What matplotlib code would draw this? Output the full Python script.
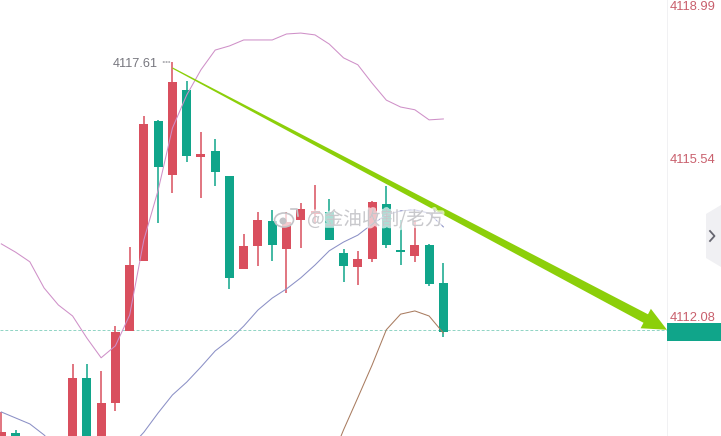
import numpy as np
import matplotlib
matplotlib.use("Agg")
import matplotlib.pyplot as plt
import matplotlib.patheffects as pe
from matplotlib.patches import Polygon, Rectangle, Ellipse, Circle
from matplotlib.transforms import Affine2D

idx = [0, 1, 5, 6, 7, 8, 9, 10, 11, 12, 13, 14, 15, 16, 17, 18, 19, 20, 21, 22, 23, 24, 25, 26, 27, 28, 29, 30, 31]
up = [1, 0, 1, 0, 1, 1, 1, 1, 0, 1, 0, 1, 0, 0, 1, 1, 0, 1, 1, 1, 0, 0, 1, 1, 0, 0, 1, 0, 0]
highs = [4110.00, 4109.60, 4111.04, 4111.04, 4110.89, 4111.86, 4113.59, 4116.43, 4116.35, 4117.61, 4117.20,
         4116.09, 4115.93, 4115.13, 4113.87, 4114.34, 4114.39, 4114.34, 4114.54, 4114.93, 4114.63, 4113.54,
         4113.50, 4114.59, 4114.90, 4114.16, 4114.17, 4113.65, 4113.23]
lows = [4109.27, 4109.27, 4109.05, 4109.05, 4109.05, 4110.01, 4111.75, 4113.28, 4114.11, 4114.76, 4115.44,
        4114.65, 4114.92, 4112.67, 4113.11, 4113.17, 4113.28, 4112.59, 4113.57, 4114.08, 4113.74, 4112.81,
        4112.76, 4113.26, 4113.55, 4113.20, 4113.26, 4112.74, 4111.63]
body_top = [4109.56, 4109.54, 4110.73, 4110.73, 4110.19, 4111.73, 4113.19, 4116.26, 4116.33, 4117.17, 4117.00,
            4115.61, 4115.67, 4115.13, 4113.60, 4114.17, 4114.15, 4114.13, 4114.41, 4114.36, 4114.34, 4113.45,
            4113.32, 4114.56, 4114.52, 4113.51, 4113.62, 4113.63, 4112.79]
body_bot = [4109.27, 4109.27, 4109.16, 4109.16, 4109.16, 4110.19, 4111.75, 4113.28, 4115.33, 4115.16, 4115.57,
            4115.55, 4115.22, 4112.91, 4113.11, 4113.61, 4113.63, 4113.54, 4114.17, 4114.30, 4113.74, 4113.17,
            4113.15, 4113.32, 4113.63, 4113.48, 4113.39, 4112.78, 4111.73]

upper_band = [4113.65, 4113.47, 4113.26, 4112.69, 4112.32, 4112.08, 4111.60, 4111.17, 4111.43, 4112.10, 4113.74,
              4114.82, 4116.17, 4116.89, 4117.44, 4117.87, 4117.96, 4118.09, 4118.09, 4118.09, 4118.22, 4118.24,
              4118.20, 4118.00, 4117.70, 4117.55, 4117.15, 4116.78, 4116.63, 4116.57, 4116.35, 4116.37]
mid_idx_a = [0, 1, 2, 3, 4]
mid_a = [4109.99, 4109.86, 4109.73, 4109.49, 4109.16]
mid_idx_b = list(range(9, 32))
mid_b = [4109.21, 4109.55, 4109.97, 4110.36, 4110.64, 4110.97, 4111.32, 4111.56, 4111.86, 4112.21, 4112.47,
         4112.67, 4112.91, 4113.19, 4113.50, 4113.69, 4113.84, 4114.08, 4114.28, 4114.37, 4114.39, 4114.32, 4114.02]
low_idx = list(range(23, 32))
low_band = [4108.84, 4109.60, 4110.30, 4111.01, 4111.78, 4112.12, 4112.19, 4112.08, 4111.71]

axis_ticks = [4118.99, 4115.54, 4112.08]
tick_labels = ["4118.99", "4115.54", "4112.08"]
tick_offsets_px = [8, 3, 2]
high_value = 4117.61
last_price = 4111.78
trend_start = (12, 4117.48)
trend_end = (46.68, 4111.78)

RED, GREEN = "#d94f5e", "#10a58a"
W, H = 721, 436
fig = plt.figure(figsize=(W / 100, H / 100), dpi=100, facecolor="white")
ax = fig.add_axes([0, 0, 1, 1])
ax.set_xlim(-0.091, 50.47)
ax.set_ylim(4109.467, 4118.96)
ax.axis("off")
px = Affine2D().scale(1, -1).translate(0, H)

ax.axhline(last_price, color="#8fd4c4", lw=0.7, ls=(0, (3, 2)), zorder=1)

for i, u, h, l, t, b in zip(idx, up, highs, lows, body_top, body_bot):
    c = RED if u else GREEN
    ax.vlines(i, l, h, color=c, lw=1.1, zorder=2)
    ax.bar(i, t - b, bottom=b, width=0.63, color=c, lw=0, zorder=2)

ax.plot(range(len(upper_band)), upper_band, color="#cf90c8", lw=0.75, zorder=3)
ax.plot(mid_idx_a, mid_a, color="#8b90c6", lw=0.75, zorder=3)
ax.plot(mid_idx_b, mid_b, color="#8b90c6", lw=0.75, zorder=3)
ax.plot(low_idx, low_band, color="#a97c60", lw=0.75, zorder=3)

# tapered trend arrow
fig.canvas.draw()
p0, p1 = ax.transData.transform([trend_start, trend_end])
d = (p1 - p0) / np.hypot(*(p1 - p0))
n = np.array([-d[1], d[0]])
head = p1 - 24 * d
verts = [p0 + 0.6 * n, head + 4.8 * n, head + 11 * n, p1, head - 11 * n, head - 4.8 * n, p0 - 0.6 * n]
ax.add_patch(Polygon(ax.transData.inverted().transform(verts), closed=True, fc="#8ccf0a", ec="none", zorder=5))

# high label
ax.annotate(f"{high_value:.2f}", (12, high_value), xytext=(-14.5, -2), textcoords="offset pixels",
            ha="right", va="center", fontsize=9.2, color="#77777f", family="Liberation Sans", zorder=6)
ax.annotate("", (12, high_value), xytext=(-12, 0), textcoords="offset pixels",
            arrowprops=dict(arrowstyle="-", ls=(0, (1, 1.5)), color="#77777f", lw=0.8))

# price axis
fig.add_artist(Rectangle((667, 0), 1, H, transform=px, fc="#f1f1f3", ec="none"))
fig.add_artist(Rectangle((667, 323), 54, 17.5, transform=px, fc=GREEN, ec="none"))
for v, s, off in zip(axis_ticks, tick_labels, tick_offsets_px):
    ax.annotate(s, (46.87, v), xytext=(0, -off), textcoords="offset pixels", ha="left", va="center",
                fontsize=9.3, color="#c9606d", family="Liberation Sans", annotation_clip=False)

# side handle
fig.add_artist(Polygon([(721, 205), (706, 214), (706, 258), (721, 267)], closed=True, transform=px,
                       fc="#f0f0f3", ec="none"))
fig.add_artist(plt.Line2D([710, 714.5, 710], [231, 236, 241], transform=px, color="#666670", lw=1.3))

# watermark
halo = [pe.withStroke(linewidth=3, foreground="white", alpha=0.65)]
fig.text(307 / W, 1 - 219 / H, "@金油收割/老方", fontsize=13.4, color="#c2c2c6", alpha=0.85, va="center", ha="left",
         family=["Noto Sans CJK SC", "DejaVu Sans"], path_effects=halo, zorder=8)
fig.add_artist(Ellipse((284, 220), 19, 14, transform=px, fc=(1, 1, 1, 0.7), ec="#c4c4c8", lw=1.2, zorder=8))
fig.add_artist(Circle((283, 221), 3.5, transform=px, fc="#c4c4c8", ec="none", zorder=8))
fig.add_artist(plt.Line2D([291, 297, 298], [209, 209, 216], transform=px, color="#c4c4c8", lw=1.2, zorder=8))

fig.savefig("out.png", dpi=100, facecolor="white")
